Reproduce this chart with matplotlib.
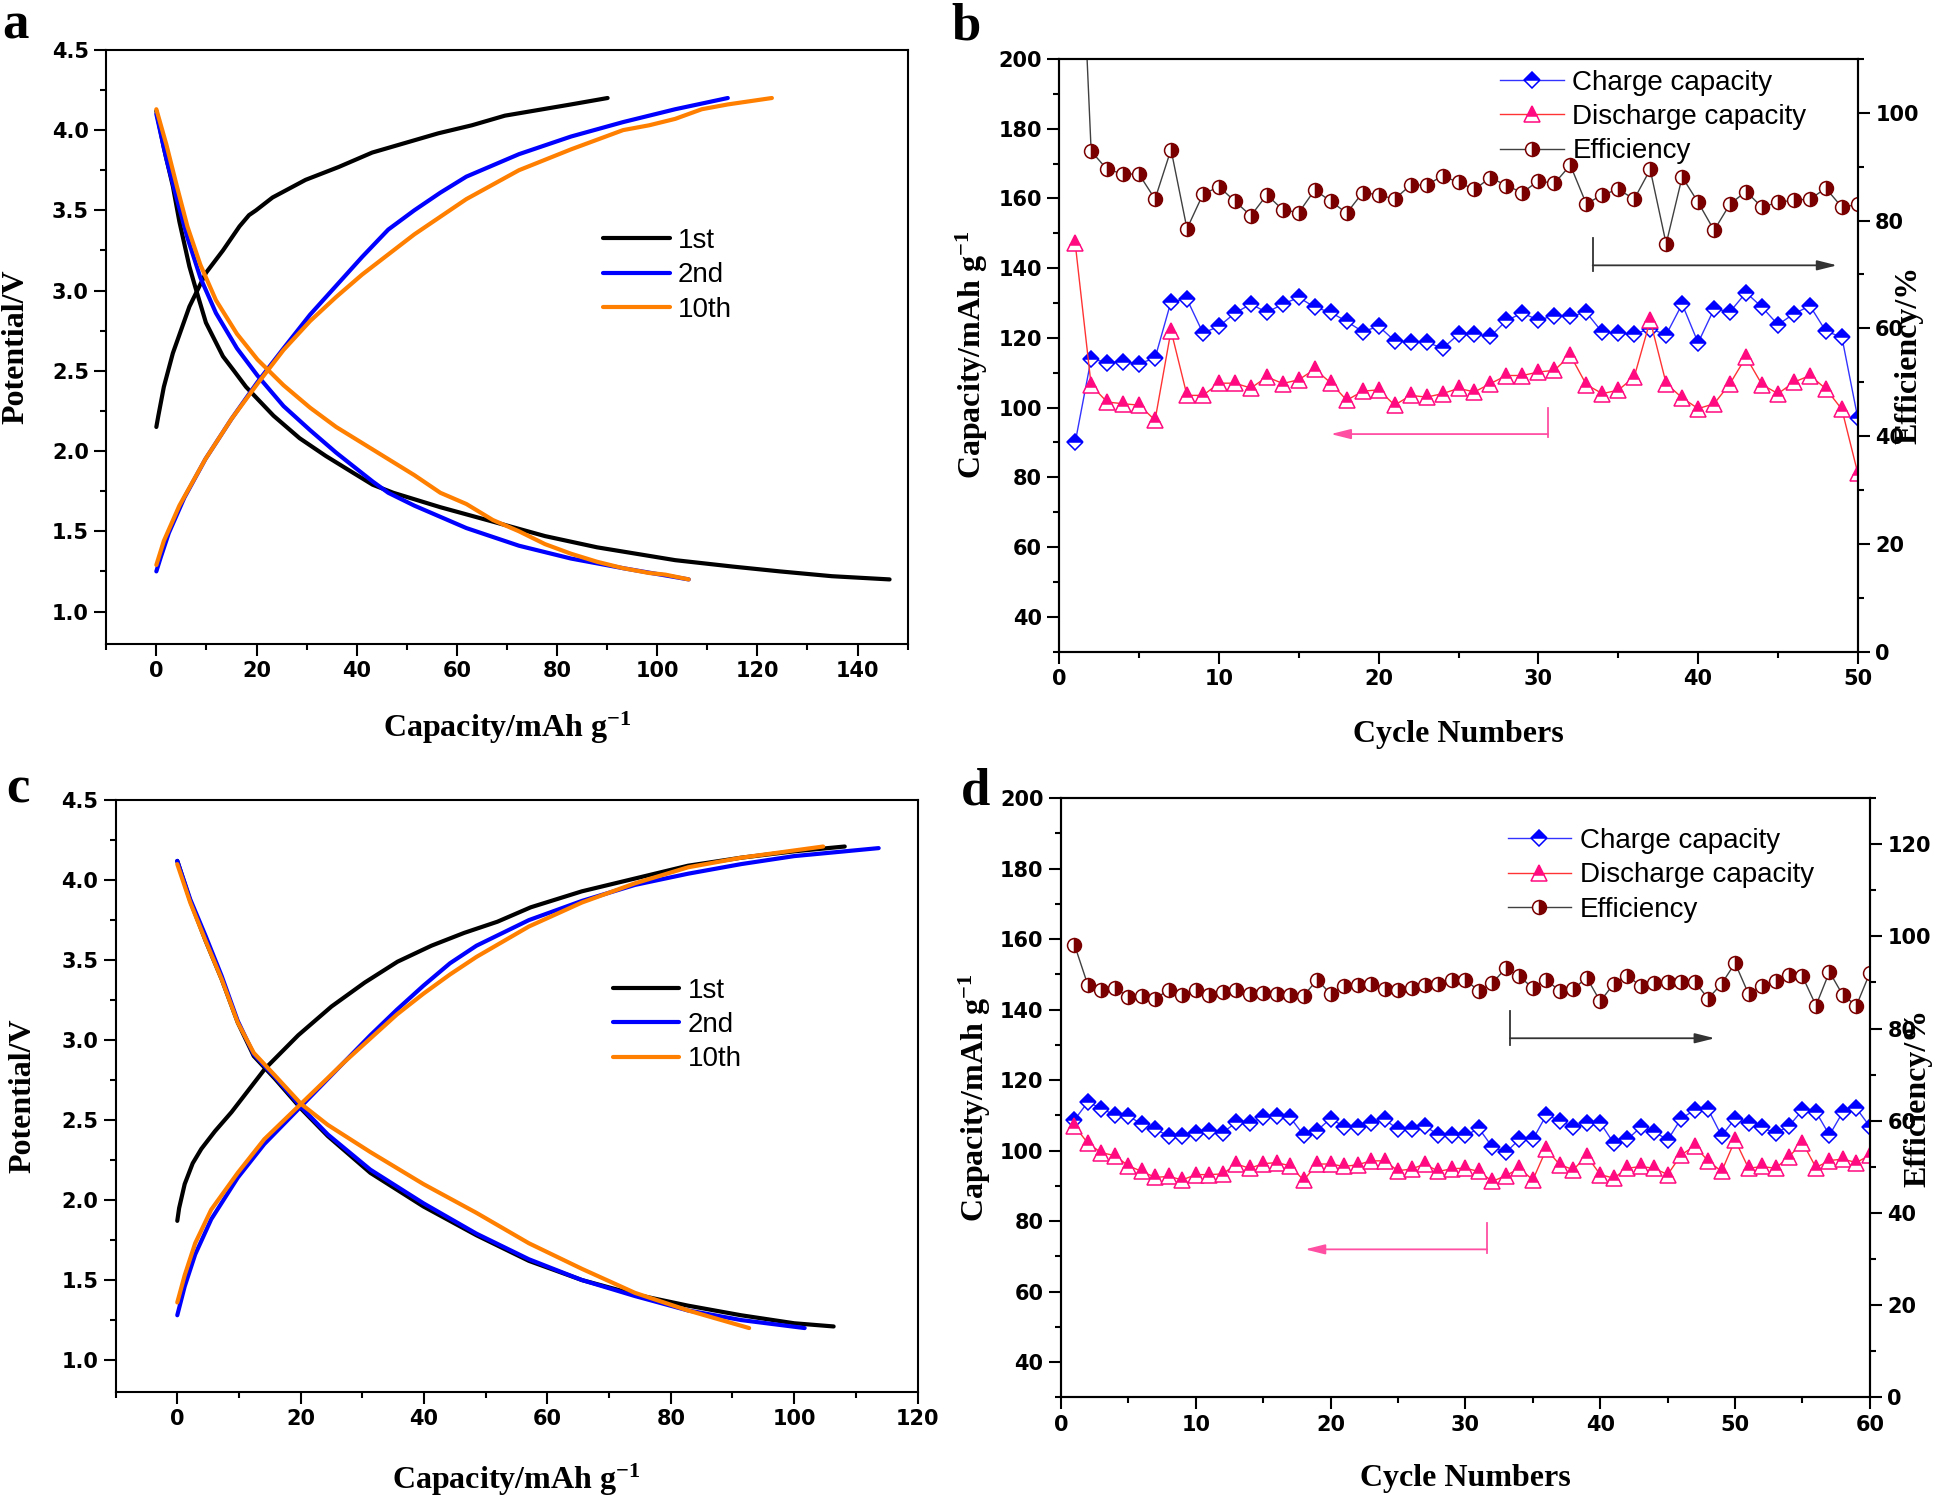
import matplotlib
matplotlib.use("Agg")
import matplotlib.pyplot as plt
from matplotlib.ticker import MultipleLocator

# --- 1. Dane: krzywe ladowania / rozladowania (panel a) ---
a1_chg_cap = [0, 0.4, 1.5, 3.3, 6.6, 9.9, 13.3, 16.6, 18.5, 19.9, 23.2, 29.8, 36.4, 43.1, 49.7, 56.3, 63.0, 69.6, 82.8, 90.1]
a1_chg_v = [2.15, 2.22, 2.40, 2.61, 2.90, 3.11, 3.25, 3.40, 3.47, 3.50, 3.58, 3.69, 3.77, 3.86, 3.92, 3.98, 4.03, 4.09, 4.16, 4.20]
a1_dis_cap = [0, 1.5, 3.3, 4.6, 6.6, 7.7, 9.9, 13.3, 15.5, 17.9, 23.4, 28.6, 33.8, 39.0, 43.2, 47.3, 56.7, 67.2,
              77.6, 88.0, 103.6, 115.1, 124.5, 134.9, 146.4]
a1_dis_v = [4.12, 3.89, 3.65, 3.43, 3.15, 3.03, 2.80, 2.59, 2.50, 2.40, 2.22, 2.08, 1.97, 1.87, 1.79, 1.74, 1.65, 1.56,
            1.47, 1.40, 1.32, 1.28, 1.25, 1.22, 1.20]
a2_chg_cap = [0, 0.9, 2.5, 5.6, 9.8, 15.0, 20.2, 25.4, 30.7, 35.9, 41.1, 46.3, 51.5, 56.7, 61.9, 72.4, 82.8, 93.2, 103.6, 114.1]
a2_chg_v = [1.25, 1.34, 1.49, 1.71, 1.95, 2.20, 2.43, 2.64, 2.85, 3.03, 3.21, 3.38, 3.50, 3.61, 3.71, 3.85, 3.96, 4.05, 4.13, 4.20]
a2_dis_cap = [0, 2.0, 4.1, 6.2, 8.8, 11.9, 16.1, 20.2, 25.4, 30.7, 35.9, 43.2, 46.3, 51.5, 61.9, 72.4, 82.8, 93.2, 106.3]
a2_dis_v = [4.10, 3.82, 3.57, 3.33, 3.08, 2.86, 2.64, 2.47, 2.28, 2.13, 1.99, 1.81, 1.74, 1.66, 1.52, 1.41, 1.33, 1.27, 1.20]
a10_chg_cap = [0, 1.5, 4.6, 9.8, 15.0, 20.2, 25.4, 30.7, 35.9, 41.1, 51.5, 61.9, 72.4, 82.8, 93.2, 98.4, 103.6, 108.9, 114.1, 122.9]
a10_chg_v = [1.29, 1.44, 1.66, 1.95, 2.20, 2.42, 2.63, 2.81, 2.96, 3.10, 3.35, 3.57, 3.75, 3.88, 4.00, 4.03, 4.07, 4.13, 4.16, 4.20]
a10_dis_cap = [0, 2.0, 4.1, 6.2, 8.8, 11.9, 16.1, 20.2, 25.4, 30.7, 35.9, 41.1, 46.3, 51.5, 56.7, 61.9, 67.2, 72.4,
               77.6, 82.8, 88.0, 93.2, 98.4, 101.6, 106.3]
a10_dis_v = [4.13, 3.91, 3.65, 3.40, 3.16, 2.94, 2.73, 2.57, 2.41, 2.27, 2.15, 2.05, 1.95, 1.85, 1.74, 1.67, 1.57, 1.50,
             1.42, 1.36, 1.31, 1.27, 1.24, 1.23, 1.20]

# --- 2. Dane: panel c ---
c1_chg_cap = [0, 0.3, 1.2, 2.5, 3.9, 6.1, 8.8, 14.2, 19.6, 25.0, 30.4, 35.7, 41.2, 46.5, 51.9, 57.3, 65.6, 74.2, 82.8, 91.4, 100.0, 108.2]
c1_chg_v = [1.87, 1.95, 2.10, 2.23, 2.32, 2.43, 2.55, 2.82, 3.03, 3.21, 3.36, 3.49, 3.59, 3.67, 3.74, 3.83, 3.93, 4.01, 4.09, 4.14, 4.18, 4.21]
c1_dis_cap = [0, 2.1, 4.6, 7.2, 9.8, 12.4, 15.8, 20.1, 24.4, 31.3, 39.9, 48.5, 57.0, 65.6, 74.2, 82.8, 91.4, 100.0, 106.4]
c1_dis_v = [4.12, 3.87, 3.62, 3.38, 3.11, 2.90, 2.76, 2.57, 2.40, 2.17, 1.96, 1.78, 1.62, 1.50, 1.41, 1.34, 1.28, 1.23, 1.21]
c2_chg_cap = [0, 1.2, 2.9, 5.5, 9.8, 14.1, 18.4, 22.7, 27.0, 31.3, 35.6, 39.9, 44.2, 48.5, 57.0, 65.6, 74.2, 82.8, 91.4, 100.0, 113.7]
c2_chg_v = [1.28, 1.46, 1.66, 1.88, 2.14, 2.35, 2.52, 2.69, 2.86, 3.03, 3.19, 3.34, 3.48, 3.59, 3.75, 3.87, 3.97, 4.04, 4.10, 4.15, 4.20]
c2_dis_cap = [0, 2.1, 4.6, 7.2, 9.8, 12.4, 15.8, 20.1, 24.4, 31.3, 39.9, 48.5, 57.0, 65.6, 74.2, 82.8, 91.4, 101.7]
c2_dis_v = [4.12, 3.88, 3.65, 3.40, 3.12, 2.91, 2.77, 2.58, 2.41, 2.19, 1.98, 1.79, 1.63, 1.50, 1.40, 1.31, 1.25, 1.20]
c10_chg_cap = [0, 1.2, 2.9, 5.5, 9.8, 14.1, 18.4, 22.7, 27.0, 31.3, 35.6, 39.9, 44.2, 48.5, 57.0, 65.6, 74.2, 82.8, 91.4, 104.7]
c10_chg_v = [1.36, 1.53, 1.73, 1.94, 2.17, 2.38, 2.54, 2.70, 2.86, 3.01, 3.16, 3.29, 3.41, 3.52, 3.71, 3.86, 3.98, 4.08, 4.14, 4.21]
c10_dis_cap = [0, 2.1, 4.6, 7.2, 9.8, 12.4, 15.8, 20.1, 24.4, 31.3, 39.9, 48.5, 57.0, 65.6, 74.2, 82.8, 92.7]
c10_dis_v = [4.10, 3.86, 3.62, 3.38, 3.11, 2.92, 2.78, 2.60, 2.47, 2.30, 2.10, 1.92, 1.73, 1.57, 1.42, 1.31, 1.20]

# --- 3. Dane: cyklowanie (panel b, 50 cykli) ---
b_charge = [90.0, 114.0, 112.9, 113.2, 112.6, 114.2, 130.4, 131.1, 121.4, 123.3,
            127.1, 129.7, 127.3, 129.7, 131.6, 128.8, 127.3, 124.7, 121.8, 123.3,
            119.2, 118.8, 118.8, 117.0, 121.0, 121.1, 120.4, 125.0, 127.1, 125.1,
            126.4, 126.2, 127.3, 121.6, 121.3, 121.1, 122.6, 120.9, 129.7, 118.6,
            128.3, 127.5, 133.0, 128.8, 123.8, 126.9, 129.2, 121.9, 120.2, 96.9]
b_discharge = [147.2, 106.4, 101.6, 101.1, 100.7, 96.4, 122.1, 103.5, 103.5, 107.0,
               107.0, 105.6, 108.8, 106.9, 108.0, 111.0, 107.1, 102.1, 104.7, 105.1,
               100.7, 103.5, 103.0, 104.0, 105.5, 104.5, 106.9, 109.2, 109.2, 110.2,
               110.7, 115.0, 106.6, 104.0, 105.0, 108.8, 125.0, 106.9, 102.8, 99.7,
               101.1, 106.9, 114.5, 106.6, 104.0, 107.3, 109.2, 105.4, 99.5, 81.1]
b_eff = [160.0, 92.9, 89.5, 88.7, 88.6, 84.0, 93.2, 78.5, 84.9, 86.3,
         83.6, 80.9, 84.8, 82.0, 81.5, 85.7, 83.6, 81.4, 85.2, 84.8,
         84.0, 86.6, 86.6, 88.3, 87.1, 85.8, 88.0, 86.5, 85.2, 87.4,
         86.9, 90.3, 83.1, 84.8, 85.8, 84.0, 89.5, 75.7, 88.1, 83.4,
         78.2, 83.1, 85.4, 82.5, 83.4, 83.8, 84.0, 86.0, 82.5, 83.0]

# --- 4. Dane: cyklowanie (panel d, 60 cykli) ---
d_charge = [108.7, 113.8, 111.9, 110.1, 109.8, 107.5, 106.0, 104.2, 104.2, 104.9,
            105.6, 105.1, 108.0, 107.9, 109.4, 109.8, 109.4, 104.4, 105.7, 109.1,
            106.8, 106.6, 107.9, 108.9, 106.0, 106.0, 107.0, 104.4, 104.4, 104.3,
            106.3, 101.0, 99.5, 103.2, 103.2, 110.1, 108.5, 106.6, 107.9, 107.9,
            102.1, 103.2, 106.6, 105.4, 103.0, 109.1, 111.5, 111.7, 104.2, 109.1,
            107.7, 106.6, 104.9, 107.0, 111.5, 111.0, 104.4, 111.0, 112.0, 106.8]
d_discharge = [107.0, 102.1, 99.4, 98.6, 95.7, 94.1, 92.4, 92.7, 91.7, 93.2,
               93.2, 93.4, 96.2, 95.0, 96.3, 96.6, 95.7, 91.6, 96.2, 96.2,
               95.5, 96.0, 97.1, 97.1, 94.3, 94.8, 96.2, 94.1, 94.9, 95.0,
               94.1, 91.3, 92.9, 95.0, 91.7, 100.4, 96.0, 94.6, 98.5, 93.2,
               92.2, 95.0, 95.5, 95.0, 93.2, 98.8, 101.3, 97.1, 94.1, 103.0,
               95.0, 95.5, 95.0, 98.3, 102.3, 95.2, 97.2, 97.6, 96.6, 98.8]
d_eff = [98.2, 89.4, 88.4, 88.9, 86.8, 87.1, 86.5, 88.4, 87.3, 88.3,
         87.3, 87.9, 88.3, 87.5, 87.7, 87.5, 87.2, 87.1, 90.6, 87.5,
         89.2, 89.5, 89.7, 88.6, 88.4, 88.8, 89.5, 89.7, 90.6, 90.6,
         88.1, 89.9, 93.1, 91.3, 88.8, 90.6, 88.1, 88.6, 91.0, 85.9,
         89.7, 91.5, 89.2, 89.9, 90.1, 90.2, 90.2, 86.5, 89.7, 94.2,
         87.5, 89.2, 90.4, 91.7, 91.3, 85.0, 92.3, 87.2, 85.0, 92.1]

# strzalki wskazujace osie: (x_start, x_end, y, y_dol, y_gora)
b_arrow_left = (30.6, 17.0, 92.4, 91.7, 99.9)
b_arrow_right = (33.4, 48.7, 71.7, 70.6, 76.8)
d_arrow_left = (31.6, 18.1, 72.0, 70.9, 79.5)
d_arrow_right = (33.3, 48.5, 77.9, 76.5, 83.9)

curve_labels = ["1st", "2nd", "10th"]
cycle_labels = ["Charge capacity", "Discharge capacity", "Efficiency"]

# --- 5. Styl ---
plt.rcParams["font.family"] = "DejaVu Sans"
plt.rcParams["font.weight"] = "bold"
plt.rcParams["mathtext.fontset"] = "custom"
plt.rcParams["mathtext.rm"] = "Liberation Serif:bold"
plt.rcParams["mathtext.default"] = "rm"
plt.rcParams["axes.linewidth"] = 1.5

BLACK, BLUE, ORANGE = "#000000", "#0000FF", "#FF7F00"
PINK, DARKRED = "#FF0A80", "#7A0000"
label_font = {"family": "Liberation Serif", "weight": "bold", "size": 23}
legend_font = {"family": "Liberation Sans", "weight": "normal", "size": 20}


def style_ticks(ax):
    ax.tick_params(which="major", direction="out", length=8.5, width=1.5, labelsize=15, pad=4)
    ax.tick_params(which="minor", direction="out", length=4.5, width=1.5)
    ax.tick_params(top=False, right=False, which="both")


def curve_panel(ax, curves, xmax):
    for (chg_c, chg_v, dis_c, dis_v), color, label in zip(curves, [BLACK, BLUE, ORANGE], curve_labels):
        ax.plot(chg_c, chg_v, color=color, lw=3, solid_capstyle="round", solid_joinstyle="round", label=label)
        ax.plot(dis_c, dis_v, color=color, lw=3, solid_capstyle="round", solid_joinstyle="round")
    ax.set_xlim(-10, xmax)
    ax.set_ylim(0.8, 4.5)
    ax.xaxis.set_major_locator(MultipleLocator(20))
    ax.xaxis.set_minor_locator(MultipleLocator(10))
    ax.yaxis.set_major_locator(MultipleLocator(0.5))
    ax.yaxis.set_minor_locator(MultipleLocator(0.25))
    ax.yaxis.set_major_formatter("{x:.1f}")
    style_ticks(ax)
    ax.set_xlabel("Capacity/mAh g$^{-1}$", fontdict=label_font)
    ax.set_ylabel("Potential/V", fontdict=label_font)
    ax.legend(loc="upper left", bbox_to_anchor=(0.62, 0.70), frameon=False, prop=legend_font,
              handlelength=2.4, handletextpad=0.3, labelspacing=0.3, borderpad=0, borderaxespad=0)


def draw_arrow(ax, arrow, color):
    x0, x1, y, y_lo, y_hi = arrow
    ax.plot([x0, x0], [y_lo, y_hi], color=color, lw=1.3)
    ax.annotate("", xy=(x1, y), xytext=(x0, y),
                arrowprops=dict(arrowstyle="-|>,head_length=0.6,head_width=0.15",
                                color=color, lw=1.3, mutation_scale=20,
                                shrinkA=0, shrinkB=0))


def cycle_panel(ax, charge, discharge, eff, xmax, eff_max, arrows, legend_top):
    cycles = list(range(1, len(charge) + 1))
    h1, = ax.plot(cycles, charge, color="#3333FF", lw=1, marker="D", ms=8.5,
                  fillstyle="top", markerfacecolor=BLUE, markerfacecoloralt="white",
                  markeredgecolor=BLUE, markeredgewidth=1.1)
    h2, = ax.plot(cycles, discharge, color="#FF3333", lw=1, marker="^", ms=11,
                  fillstyle="top", markerfacecolor=PINK, markerfacecoloralt="white",
                  markeredgecolor=PINK, markeredgewidth=1.1)
    ax.set_xlim(0, xmax)
    ax.set_ylim(30, 200)
    ax.xaxis.set_major_locator(MultipleLocator(10))
    ax.xaxis.set_minor_locator(MultipleLocator(5))
    ax.yaxis.set_minor_locator(MultipleLocator(10))
    ax.set_yticks(range(40, 201, 20))
    style_ticks(ax)
    ax.set_xlabel("Cycle Numbers", fontdict=label_font)
    ax.set_ylabel("Capacity/mAh g$^{-1}$", fontdict=label_font)

    tw = ax.twinx()
    h3, = tw.plot(cycles, eff, color="#404040", lw=1, marker="o", ms=10,
                  fillstyle="right", markerfacecolor=DARKRED, markerfacecoloralt="white",
                  markeredgecolor=DARKRED, markeredgewidth=1.1)
    tw.set_ylim(0, eff_max)
    tw.yaxis.set_minor_locator(MultipleLocator(10))
    tw.set_yticks(range(0, eff_max - 9, 20))
    tw.tick_params(which="major", direction="out", length=8.5, width=1.5, labelsize=15, pad=4)
    tw.tick_params(which="minor", direction="out", length=4.5, width=1.5)
    tw.set_ylabel("Efficiency/%", fontdict=label_font)

    draw_arrow(ax, arrows[0], "#FF4FA3")
    draw_arrow(tw, arrows[1], "#333333")
    tw.legend([h1, h2, h3], cycle_labels, loc="upper left", bbox_to_anchor=(0.552, legend_top),
              frameon=False, prop=legend_font, handlelength=2.3, handletextpad=0.3,
              labelspacing=0.3, borderpad=0, borderaxespad=0)
    return tw


# --- 6. Rysunek ---
fig = plt.figure(figsize=(19.46, 15.02), dpi=100)
ax_a = fig.add_axes([0.0546, 0.5715, 0.4118, 0.3953])
ax_b = fig.add_axes([0.5443, 0.5662, 0.4104, 0.3945])
ax_c = fig.add_axes([0.0594, 0.0732, 0.4121, 0.3941])
ax_d = fig.add_axes([0.5452, 0.0696, 0.4157, 0.3991])

curve_panel(ax_a, [(a1_chg_cap, a1_chg_v, a1_dis_cap, a1_dis_v),
                   (a2_chg_cap, a2_chg_v, a2_dis_cap, a2_dis_v),
                   (a10_chg_cap, a10_chg_v, a10_dis_cap, a10_dis_v)], 150)
curve_panel(ax_c, [(c1_chg_cap, c1_chg_v, c1_dis_cap, c1_dis_v),
                   (c2_chg_cap, c2_chg_v, c2_dis_cap, c2_dis_v),
                   (c10_chg_cap, c10_chg_v, c10_dis_cap, c10_dis_v)], 120)
ax_a.xaxis.set_label_coords(0.5, -0.112)
ax_a.yaxis.set_label_coords(-0.094, 0.5)
ax_c.xaxis.set_label_coords(0.5, -0.117)
ax_c.yaxis.set_label_coords(-0.097, 0.5)

tw_b = cycle_panel(ax_b, b_charge, b_discharge, b_eff, 50, 110, (b_arrow_left, b_arrow_right), 0.982)
tw_d = cycle_panel(ax_d, d_charge, d_discharge, d_eff, 60, 130, (d_arrow_left, d_arrow_right), 0.95)
ax_b.xaxis.set_label_coords(0.5, -0.115)
ax_b.yaxis.set_label_coords(-0.087, 0.5)
tw_b.yaxis.set_label_coords(1.046, 0.5)
ax_d.xaxis.set_label_coords(0.5, -0.111)
ax_d.yaxis.set_label_coords(-0.084, 0.5)
tw_d.yaxis.set_label_coords(1.042, 0.5)

# litery paneli
letter_font = {"family": "Liberation Serif", "weight": "bold", "size": 38}
fig.text(0.001, 0.9747, "a", fontdict=letter_font, va="baseline", ha="left")
fig.text(0.489, 0.9734, "b", fontdict=letter_font, va="baseline", ha="left")
fig.text(0.003, 0.4654, "c", fontdict=letter_font, va="baseline", ha="left")
fig.text(0.494, 0.4647, "d", fontdict=letter_font, va="baseline", ha="left")

fig.savefig("out.png", dpi=100)
